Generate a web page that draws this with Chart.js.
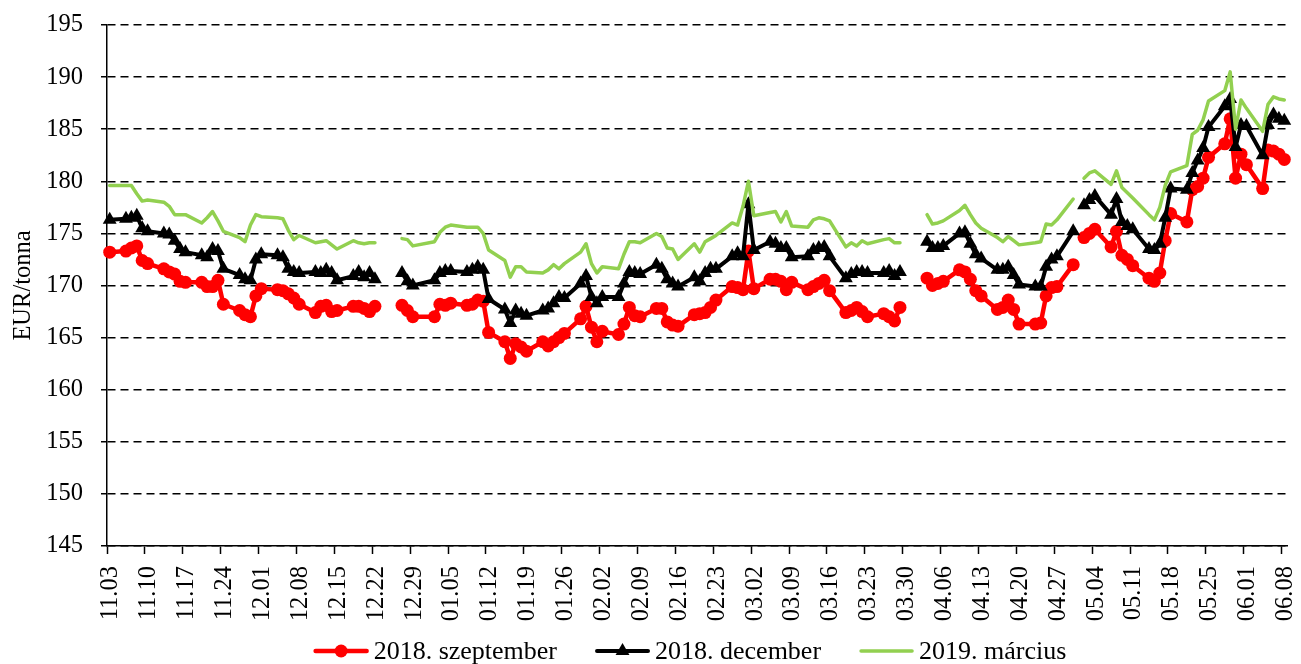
<!DOCTYPE html>
<html>
<head>
<meta charset="utf-8">
<script src="https://cdn.jsdelivr.net/npm/chart.js@4.4.1/dist/chart.umd.min.js"></script>
<style>
    html, body { margin: 0; padding: 0; background: #ffffff; }
    #chart { display: block; }
</style>
</head>
<body>
<canvas id="chart" width="1301" height="664"></canvas>
<script>
// trading days (MM.DD, 2017-11-03 .. 2018-06-08); holidays kept as empty rows
let dates = [
    '11.03',
    '11.06', '11.07', '11.08', '11.09', '11.10',
    '11.13', '11.14', '11.15', '11.16', '11.17',
    '11.20', '11.21', '11.22', '11.23', '11.24',
    '11.27', '11.28', '11.29', '11.30', '12.01',
    '12.04', '12.05', '12.06', '12.07', '12.08',
    '12.11', '12.12', '12.13', '12.14', '12.15',
    '12.18', '12.19', '12.20', '12.21', '12.22',
    '12.25', '12.26', '12.27', '12.28', '12.29',
    '01.02', '01.03', '01.04', '01.05',
    '01.08', '01.09', '01.10', '01.11', '01.12',
    '01.15', '01.16', '01.17', '01.18', '01.19',
    '01.22', '01.23', '01.24', '01.25', '01.26',
    '01.29', '01.30', '01.31', '02.01', '02.02',
    '02.05', '02.06', '02.07', '02.08', '02.09',
    '02.12', '02.13', '02.14', '02.15', '02.16',
    '02.19', '02.20', '02.21', '02.22', '02.23',
    '02.26', '02.27', '02.28', '03.01', '03.02',
    '03.05', '03.06', '03.07', '03.08', '03.09',
    '03.12', '03.13', '03.14', '03.15', '03.16',
    '03.19', '03.20', '03.21', '03.22', '03.23',
    '03.26', '03.27', '03.28', '03.29', '03.30',
    '04.02', '04.03', '04.04', '04.05', '04.06',
    '04.09', '04.10', '04.11', '04.12', '04.13',
    '04.16', '04.17', '04.18', '04.19', '04.20',
    '04.23', '04.24', '04.25', '04.26', '04.27',
    '04.30', '05.01', '05.02', '05.03', '05.04',
    '05.07', '05.08', '05.09', '05.10', '05.11',
    '05.14', '05.15', '05.16', '05.17', '05.18',
    '05.21', '05.22', '05.23', '05.24', '05.25',
    '05.28', '05.29', '05.30', '05.31', '06.01',
    '06.04', '06.05', '06.06', '06.07', '06.08'
];

let tickLabels = [
    '11.03', '11.10', '11.17', '11.24', '12.01', '12.08', '12.15', '12.22',
    '12.29', '01.05', '01.12', '01.19', '01.26', '02.02', '02.09', '02.16',
    '02.23', '03.02', '03.09', '03.16', '03.23', '03.30', '04.06', '04.13',
    '04.20', '04.27', '05.04', '05.11', '05.18', '05.25', '06.01', '06.08'
];

let seriesNames = ['2018. szeptember', '2018. december', '2019. március'];

let septValues = [
    173.2,
    173.3, 173.6, 173.8, 172.4, 172.1,
    171.6, 171.3, 171.1, 170.4, 170.3,
    170.3, 169.9, 169.9, 170.5, 168.2,
    167.6, 167.2, 167.0, 169.0, 169.7,
    169.6, 169.5, 169.2, 168.8, 168.2,
    167.4, 168.0, 168.1, 167.5, 167.6,
    168.0, 168.0, 167.8, 167.5, 168.0,
    null, null, 168.1, 167.6, 167.0,
    167.0, 168.2, 168.1, 168.3,
    168.1, 168.2, 168.6, 168.5, 165.5,
    164.6, 163.0, 164.4, 164.1, 163.7,
    164.6, 164.2, 164.6, 165.0, 165.4,
    166.8, 168.0, 166.0, 164.6, 165.6,
    165.3, 166.3, 167.9, 167.1, 167.0,
    167.8, 167.8, 166.5, 166.2, 166.1,
    167.2, 167.3, 167.4, 167.9, 168.6,
    169.9, 169.8, 169.6, 173.3, 169.7,
    170.6, 170.6, 170.4, 169.6, 170.3,
    169.6, 169.9, 170.2, 170.5, 169.5,
    167.4, 167.6, 167.9, 167.5, 167.0,
    167.3, 167.0, 166.6, 167.9, null,
    null, 170.7, 170.0, 170.2, 170.4,
    171.5, 171.3, 170.6, 169.5, 169.0,
    167.7, 167.9, 168.6, 167.7, 166.3,
    166.3, 166.4, 169.0, 169.8, 169.9,
    172.0, null, 174.6, 175.0, 175.4,
    173.7, 175.2, 172.9, 172.5, 171.9,
    170.7, 170.4, 171.2, 174.3, 176.9,
    176.1, 179.2, 179.5, 180.3, 182.3,
    183.6, 186.0, 180.3, 182.6, 181.6,
    179.3, 183.0, 182.9, 182.6, 182.1
];

let decValues = [
    176.3,
    176.4, 176.5, 176.7, 175.5, 175.2,
    175.0, 174.9, 174.3, 173.5, 173.2,
    172.9, 172.7, 173.5, 173.3, 171.6,
    171.0, 170.6, 170.5, 172.5, 173.0,
    172.9, 172.7, 171.6, 171.3, 171.2,
    171.3, 171.2, 171.5, 171.2, 170.5,
    170.9, 171.3, 170.8, 171.2, 170.6,
    null, null, 171.2, 170.4, 170.0,
    170.5, 171.2, 171.4, 171.4,
    171.3, 171.5, 171.8, 171.5, 168.7,
    167.7, 166.4, 167.6, 167.3, 167.1,
    167.6, 167.8, 168.3, 168.9, 168.8,
    170.2, 170.9, 168.9, 168.3, 168.9,
    168.9, 170.2, 171.3, 171.2, 171.1,
    172.0, 171.6, 170.6, 170.2, 169.9,
    170.8, 170.4, 171.2, 171.6, 171.6,
    172.8, 173.1, 172.8, 177.8, 173.4,
    174.2, 174.0, 173.6, 173.6, 172.7,
    172.8, 173.4, 173.6, 173.7, 172.8,
    170.7, 171.1, 171.3, 171.3, 171.2,
    171.2, 171.4, 170.9, 171.3, null,
    null, 174.2, 173.6, 173.6, 173.8,
    175.0, 175.1, 174.0, 173.0, 172.6,
    171.5, 171.5, 171.8, 171.0, 170.1,
    169.9, 169.9, 171.8, 172.5, 172.8,
    175.2, null, 177.7, 178.2, 178.6,
    176.8, 178.3, 176.1, 175.7, 175.4,
    173.5, 173.4, 174.0, 176.5, 179.3,
    179.2, 180.8, 182.0, 183.2, 185.2,
    187.2, 187.9, 183.3, 185.4, 185.3,
    182.5, 185.4, 186.4, 186.0, 185.8
];

let marValues = [
    179.6,
    179.6, 179.6, 178.8, 178.1, 178.2,
    178.0, 177.6, 176.8, 176.8, 176.8,
    176.0, 176.5, 177.1, 176.2, 175.2,
    174.6, 174.2, 175.8, 176.8, 176.6,
    176.5, 176.4, 175.3, 174.4, 174.8,
    174.1, 174.2, 174.3, 173.9, 173.5,
    174.3, 174.1, 174.0, 174.1, 174.1,
    null, null, 174.5, 174.4, 173.8,
    174.2, 175.1, 175.6, 175.8,
    175.6, 175.6, 175.6, 175.0, 173.4,
    172.4, 170.8, 171.8, 171.8, 171.3,
    171.2, 171.5, 172.0, 171.6, 172.1,
    173.2, 174.0, 172.1, 171.2, 171.8,
    171.6, 173.0, 174.2, 174.2, 174.1,
    175.0, 174.7, 173.6, 173.5, 172.5,
    174.0, 173.2, 174.2, 174.5, 174.8,
    176.0, 175.8, 177.6, 180.0, 176.7,
    177.0, 177.1, 176.1, 177.1, 175.7,
    175.6, 176.3, 176.5, 176.4, 176.2,
    173.7, 174.1, 173.8, 174.3, 174.0,
    174.4, 174.5, 174.1, 174.1, null,
    null, 176.8, 175.9, 176.0, 176.2,
    177.2, 177.7, 176.8, 176.0, 175.5,
    174.6, 174.2, 174.7, 174.3, 173.9,
    174.1, 174.2, 175.9, 175.8, 176.3,
    178.3, null, 180.3, 180.8, 181.0,
    179.7, 181.0, 179.4, 178.9, 178.4,
    176.8, 176.3, 177.5, 179.6, 180.9,
    181.5, 184.5, 184.9, 185.9, 187.7,
    188.7, 190.5, 185.0, 187.8, 187.0,
    184.8, 187.4, 188.1, 187.9, 187.8
];

/**
 * Days elapsed since 2017-11-03 for a 'MM.DD' string.
 */
function dayOffset(label) {
    let [m, d] = label.split('.').map(Number);
    let year = m >= 11 ? 2017 : 2018;
    return Math.round((Date.UTC(year, m - 1, d) - Date.UTC(2017, 10, 3)) / 86400000);
}

// date axis: each value sits in the middle of its day slot
function toPoints(values) {
    return values.map((v, i) => ({ x: dayOffset(dates[i]) + 0.5, y: v }));
}

function drawMarker(ctx, style, x, y, r) {
    ctx.beginPath();
    if (style === 'circle') {
        ctx.arc(x, y, r, 0, Math.PI * 2);
    } else if (style === 'triangle') {
        ctx.moveTo(x, y - r);
        ctx.lineTo(x + r * 0.866, y + r * 0.5);
        ctx.lineTo(x - r * 0.866, y + r * 0.5);
        ctx.closePath();
    }
    ctx.fill();
}

// Excel-like legend: line sample with marker, then the name
let legendPlugin = {
    id: 'excelLegend',
    afterDraw(chart) {
        let ctx = chart.ctx;
        let area = chart.chartArea;
        let sample = 55, gap = 5, spacing = 38, y = 651;

        ctx.save();
        ctx.font = '26px "Liberation Serif", "Times New Roman", serif';
        ctx.textBaseline = 'middle';
        ctx.textAlign = 'left';

        let items = chart.data.datasets.map(ds => ({
            ds: ds,
            width: sample + gap + ctx.measureText(ds.label).width
        }));
        let total = items.reduce((s, it) => s + it.width, 0) + spacing * (items.length - 1);
        let x = (area.left + area.right) / 2 - total / 2 - 7;

        items.forEach(it => {
            let ds = it.ds;
            ctx.strokeStyle = ds.borderColor;
            ctx.lineWidth = ds.borderWidth;
            ctx.lineCap = 'round';
            ctx.beginPath();
            ctx.moveTo(x + 2, y);
            ctx.lineTo(x + sample - 2, y);
            ctx.stroke();

            if (ds.pointRadius > 0) {
                ctx.fillStyle = ds.borderColor;
                drawMarker(ctx, ds.pointStyle, x + sample / 2, y, ds.pointRadius);
            }

            ctx.fillStyle = '#000000';
            ctx.fillText(ds.label, x + sample + gap, y + 1);
            x += it.width + spacing;
        });
        ctx.restore();
    }
};

Chart.defaults.font.family = '"Liberation Serif", "Times New Roman", serif';
Chart.defaults.color = '#000000';

let chart = new Chart(document.getElementById('chart'), {
    type: 'line',
    data: {
        datasets: [
            {
                label: seriesNames[0],
                data: toPoints(septValues),
                borderColor: '#ff0000',
                backgroundColor: '#ff0000',
                borderWidth: 4.5,
                pointStyle: 'circle',
                pointRadius: 6.5,
                pointBorderWidth: 0,
                order: 3
            },
            {
                label: seriesNames[1],
                data: toPoints(decValues),
                borderColor: '#000000',
                backgroundColor: '#000000',
                borderWidth: 4,
                pointStyle: 'triangle',
                pointRadius: 8,
                pointBorderWidth: 0,
                order: 2
            },
            {
                label: seriesNames[2],
                data: toPoints(marValues),
                borderColor: '#92d050',
                backgroundColor: '#92d050',
                borderWidth: 3.5,
                pointRadius: 0,
                order: 1
            }
        ]
    },
    options: {
        responsive: false,
        animation: false,
        spanGaps: false,
        clip: false,
        elements: {
            line: { tension: 0, borderJoinStyle: 'round', borderCapStyle: 'round' }
        },
        layout: {
            padding: { left: 0, right: 14, top: 25, bottom: 0 }
        },
        plugins: {
            legend: { display: false },
            tooltip: { enabled: false }
        },
        scales: {
            x: {
                type: 'linear',
                min: 0,
                max: 218,
                afterBuildTicks: function (axis) {
                    axis.ticks = tickLabels.map(l => ({ value: dayOffset(l) }));
                },
                afterFit: function (axis) {
                    // fixed band under the plot, no extra side padding for the labels
                    axis.height = 118;
                    axis.paddingLeft = 0;
                    axis.paddingRight = 0;
                },
                ticks: {
                    autoSkip: false,
                    minRotation: 90,
                    maxRotation: 90,
                    padding: 12,
                    labelOffset: 4,
                    color: '#000000',
                    font: { size: 24.5 },
                    callback: function (value, index) {
                        return tickLabels[index];
                    }
                },
                grid: {
                    drawOnChartArea: false,
                    drawTicks: true,
                    tickLength: 8,
                    tickColor: '#000000',
                    tickWidth: 1.5
                },
                border: { display: true, color: '#000000', width: 1.5 }
            },
            y: {
                min: 145,
                max: 195,
                afterFit: function (axis) {
                    axis.width = 107;
                    axis.paddingTop = 0;
                    axis.paddingBottom = 0;
                },
                ticks: {
                    stepSize: 5,
                    padding: 18,
                    color: '#000000',
                    font: { size: 24.5 }
                },
                grid: {
                    color: '#000000',
                    lineWidth: 1.5,
                    tickLength: 6,
                    tickColor: '#000000',
                    tickWidth: 1.5,
                    tickBorderDash: []
                },
                border: { display: true, color: '#000000', width: 1.5, dash: [8, 5] },
                title: {
                    display: true,
                    text: 'EUR/tonna',
                    color: '#000000',
                    font: { size: 24.5 },
                    padding: { top: 9, bottom: 0 }
                }
            }
        }
    },
    plugins: [legendPlugin]
});
</script>
</body>
</html>
